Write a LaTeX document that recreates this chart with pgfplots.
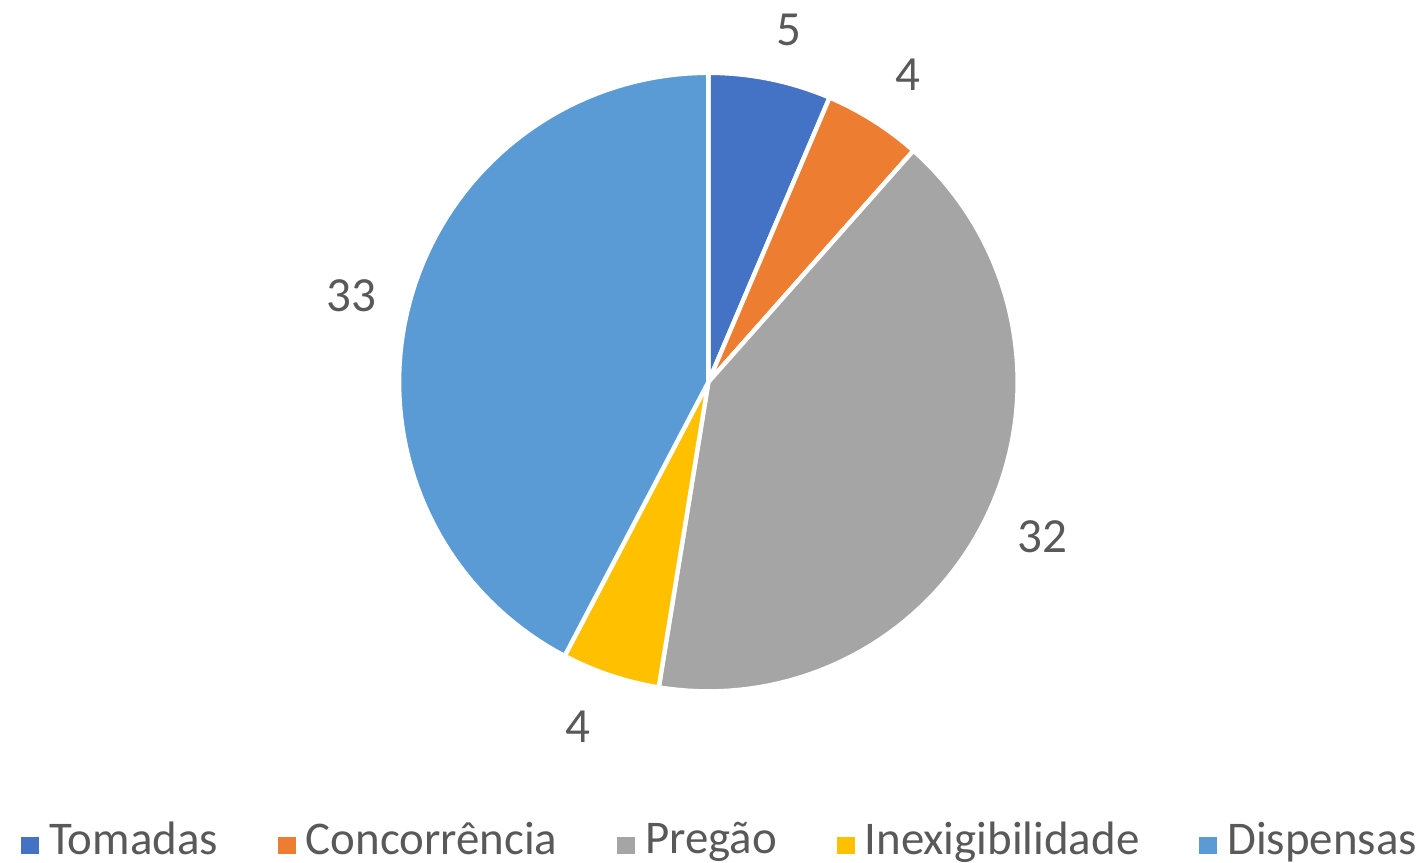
\documentclass[border=0pt]{standalone}
\usepackage{pgfplots}
\pgfplotsset{compat=1.18}
\usepackage{fontspec}
\setmainfont{Carlito}
\definecolor{cA}{HTML}{4472C4}
\definecolor{cB}{HTML}{ED7D31}
\definecolor{cC}{HTML}{A5A5A5}
\definecolor{cD}{HTML}{FFC000}
\definecolor{cE}{HTML}{5B9BD5}
\definecolor{txt}{HTML}{595959}
% one wedge: #1 start angle, #2 end angle, #3 colour (centre 710,481; radius 310 in pixel units)
\newcommand\slice[3]{%
  \addplot[fill=#3, draw=white, line width=2.2pt, line join=round, forget plot,
    variable=\t, samples at={0,...,81}]
  ({(\t==0||\t==81) ? 710 : 710+310*cos((#1)+((#2)-(#1))*(\t-1)/79)},
   {(\t==0||\t==81) ? 481 : 481+310*sin((#1)+((#2)-(#1))*(\t-1)/79)});
}
\begin{document}
\begin{tikzpicture}
% values
\def\vA{5}\def\vB{4}\def\vC{32}\def\vD{4}\def\vE{33}
\pgfmathsetmacro\tot{\vA+\vB+\vC+\vD+\vE}
\pgfmathsetmacro\aA{90}
\pgfmathsetmacro\aB{\aA-360*\vA/\tot}
\pgfmathsetmacro\aC{\aB-360*\vB/\tot}
\pgfmathsetmacro\aD{\aC-360*\vC/\tot}
\pgfmathsetmacro\aE{\aD-360*\vD/\tot}
\pgfmathsetmacro\aF{\aE-360*\vE/\tot}
\begin{axis}[
  scale only axis, width=713.5pt, height=432pt,
  xmin=0, xmax=1427, ymin=0, ymax=864,
  hide axis, clip=false,
  legend columns=5,
  legend image code/.code={\fill[#1] (0pt,-7.5pt) rectangle (9pt,1.5pt);},
  legend style={draw=none, fill=none, at={(0.5086,0.005)}, anchor=south,
    font=\fontsize{23.5}{28}\selectfont, text=txt, inner sep=0pt,
    nodes={inner xsep=5pt, inner ysep=0pt},
    /tikz/every even column/.append style={column sep=25pt}},
]
\path (rel axis cs:0,0) rectangle (rel axis cs:1,1);
\slice{\aA}{\aB}{cA}
\slice{\aB}{\aC}{cB}
\slice{\aC}{\aD}{cC}
\slice{\aD}{\aE}{cD}
\slice{\aE}{\aF}{cE}
\addlegendimage{fill=cA, draw=none}\addlegendentry{Tomadas}
\addlegendimage{fill=cB, draw=none}\addlegendentry{Concorrência}
\addlegendimage{fill=cC, draw=none}\addlegendentry{Pregão}
\addlegendimage{fill=cD, draw=none}\addlegendentry{Inexigibilidade}
\addlegendimage{fill=cE, draw=none}\addlegendentry{Dispensas}
\begin{scope}[every node/.style={font=\fontsize{24.6}{29}\selectfont, text=txt}]
\node at (axis cs:791,834) {\vA};
\node at (axis cs:910,789) {\vB};
\node at (axis cs:1045,326) {\vC};
\node at (axis cs:579,136) {\vD};
\node at (axis cs:352,568) {\vE};
\end{scope}
\end{axis}
\end{tikzpicture}
\end{document}
